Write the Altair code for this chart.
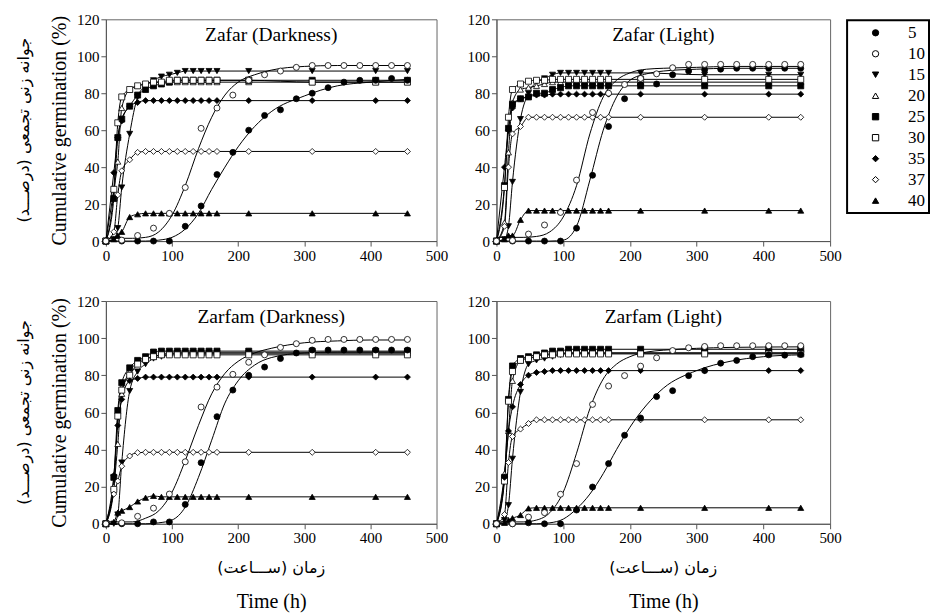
import altair as alt
import pandas as pd

SERIES = ["5", "10", "15", "20", "25", "30", "35", "37", "40"]
SHAPES = ["circle", "circle", "triangle-down", "triangle-up", "square",
          "square", "diamond", "diamond", "triangle-up"]
FILLS = ["black", "white", "black", "white", "black", "white", "black", "white", "black"]
STROKES = ["black", "black", "black", "black", "black", "black", "black", "black", "black"]
FAST = ["15", "20", "25", "30", "35", "37", "40"]
SLOW = ["5", "10"]

# observation times (h)
T_FAST = [0, 12, 18, 24, 36, 48, 60, 72, 84, 96, 108, 120, 132, 144, 156, 168, 216, 312, 408, 456]
T_SLOW = [0, 24, 48, 72, 96, 120, 144, 168, 192, 216, 240, 264, 288, 312, 336, 360, 384, 408, 432, 456]
# knots of the fitted curves of the slow series
T_CURVE = [0, 40, 60, 80, 100, 120, 140, 160, 180, 200, 225, 250, 300, 350, 400, 456]

# ---------------- Zafar (Darkness)
ZD_15 = [0, 1, 7, 29, 58, 78, 84, 87, 89, 90, 91, 92, 92, 92, 92, 92, 92, 92, 92, 92]
ZD_20 = [0, 28, 43, 72, 82, 84, 85, 86, 86, 86, 86, 86, 86, 86, 86, 86, 86, 86, 86, 86]
ZD_25 = [0, 23, 56, 66, 73, 79, 82, 84, 85, 86, 87, 87, 87, 87, 87, 87, 87, 87, 87, 87]
ZD_30 = [0, 28, 64, 78, 82, 84, 85, 86, 86, 87, 87, 87, 87, 87, 87, 87, 87, 86, 86, 86]
ZD_35 = [0, 37, 56, 65, 73, 75, 76, 76, 76, 76, 76, 76, 76, 76, 76, 76, 76, 76, 76, 76]
ZD_37 = [0, 5, 25, 38, 44, 48, 48.5, 48.5, 48.5, 48.5, 48.5, 48.5, 48.5, 48.5, 48.5, 48.5, 48.5, 48.5, 48.5, 48.5]
ZD_40 = [0, 1, 3, 5, 13, 14.5, 15, 15, 15, 15, 15, 15, 15, 15, 15, 15, 15, 15, 15, 15]
ZD_5 = [0, 0, 0, 0, 0, 8, 19, 36, 48, 60, 68, 71, 77, 80, 83, 86, 87, 87, 88, 87]
ZD_10 = [0, 0.5, 3, 7, 15, 29, 61, 72, 79, 87, 90, 92, 94, 95, 95, 95, 95, 95, 95, 95]
ZD_5_FIT = [0, 0, 0, 0.5, 2, 6.5, 15, 28, 40, 51, 62, 70, 78.5, 84, 86, 87.5]
ZD_10_FIT = [1.5, 1.5, 2, 5, 14, 30, 50, 67, 79, 86, 90, 92.5, 94.5, 95, 95, 95]

# ---------------- Zafar (Light)
ZL_15 = [0, 1, 8, 32, 66, 80, 86, 88, 90, 91, 91, 91, 91, 91, 91, 91, 91, 90, 90, 90]
ZL_20 = [0, 10, 48, 75, 82, 83, 84, 85, 86, 86, 86, 86, 86, 86, 86, 86, 86, 86, 86, 86]
ZL_25 = [0, 30, 61, 74, 77, 78, 80, 80, 82, 83, 84, 84, 84, 84, 84, 84, 84, 84, 84, 84]
ZL_30 = [0, 29, 67, 82, 85, 86.5, 87, 87, 87.5, 87.5, 87.5, 87.5, 87.5, 87.5, 87.5, 87.5, 87.5, 87.5, 87.5, 87.5]
ZL_35 = [0, 40, 60, 72, 77, 78, 79, 79, 79.5, 79.5, 79.5, 79.5, 79.5, 79.5, 79.5, 79.5, 79.5, 79.5, 79.5, 79.5]
ZL_37 = [0, 8, 40, 58, 62, 67, 67, 67, 67, 67, 67, 67, 67, 67, 67, 67, 67, 67, 67, 67]
ZL_40 = [0, 1, 3, 3, 11.5, 16.5, 16.5, 16.5, 16.5, 16.5, 16.5, 16.5, 16.5, 16.5, 16.5, 16.5, 16.5, 16.5, 16.5, 16.5]
ZL_5 = [0, 0, 0, 0, 0, 7, 35.6, 62, 77, 84.7, 85, 90, 92, 92.7, 93, 93.5, 93.5, 93.5, 93.5, 93.5]
ZL_10 = [0, 0.3, 3.8, 8.7, 15.5, 33, 69.6, 80, 84.7, 88, 90.5, 93.8, 95.6, 95.6, 95.6, 95.6, 95.6, 95.6, 95.6, 95.6]
ZL_5_FIT = [0, 0, 0, 0, 0.5, 8, 33, 60, 78, 87, 90.5, 92, 93, 93.5, 93.5, 93.5]
ZL_10_FIT = [2, 2, 2.5, 5, 13, 30, 58, 78, 87, 91, 93, 93.5, 94, 94.5, 94.5, 94.5]

# ---------------- Zarfam (Darkness)
RD_15 = [0, 0, 5, 33, 71.5, 82, 86, 89, 90, 91, 92, 92, 92, 92, 92, 92, 92, 92, 92, 92]
RD_20 = [0, 20, 43, 70, 82, 87, 89, 90, 91, 92, 92, 92, 92, 92, 92, 92, 92, 92, 92, 92]
RD_25 = [0, 25, 61, 76, 84, 88, 90, 92.5, 93, 93, 93, 93, 93, 93, 93, 93, 93, 93, 93, 93]
RD_30 = [0, 18.5, 58, 72, 80, 86, 88.5, 90, 91, 91, 91, 91, 91, 91, 91, 91, 91, 91, 91, 91]
RD_35 = [0, 26, 53, 67, 77, 78.3, 79, 79, 79, 79, 79, 79, 79, 79, 79, 79, 79, 79, 79, 79]
RD_37 = [0, 16, 23, 31, 36.5, 38.3, 38.5, 38.5, 38.5, 38.5, 38.5, 38.5, 38.5, 38.5, 38.5, 38.5, 38.5, 38.5, 38.5, 38.5]
RD_40 = [0, 1, 6, 7, 9, 12, 14, 15, 14.5, 14.5, 14.5, 14.5, 14.5, 14.5, 14.5, 14.5, 14.5, 14.5, 14.5, 14.5]
RD_5 = [0, 0, 0, 1, 1, 10.4, 32.9, 57.7, 72, 80, 84.4, 89, 92, 93.6, 93.6, 93.6, 93.6, 93.6, 93.6, 93.6]
RD_10 = [0, 0.5, 4, 8.4, 16, 33.4, 62.9, 73.6, 80.5, 87, 91, 95, 97, 98.8, 99.3, 99.3, 99.3, 99.3, 99.3, 99.3]
RD_5_FIT = [0, 0, 0, 0.5, 2, 9, 25, 45, 65, 77, 85.5, 89.5, 92, 92.5, 92.5, 92.5]
RD_10_FIT = [1, 1, 3, 7, 17, 34, 53, 70, 81, 87.5, 92, 94.5, 97.5, 98.5, 99, 99]

# ---------------- Zarfam (Light)
RL_15 = [0, 2, 10, 35, 71, 86, 88, 89, 90, 91, 92, 92, 92, 92, 92, 92, 92, 92, 92, 92]
RL_20 = [0, 27, 50, 77, 88, 90, 91, 91, 92, 92, 92, 92, 92, 92, 92, 92, 92, 92, 92, 92]
RL_25 = [0, 25, 67, 85, 89, 90, 91, 92, 93, 93, 94, 94, 94, 94, 94, 94, 94, 94, 94, 94]
RL_30 = [0, 23, 66, 82, 88, 89, 90, 91, 91, 91.5, 91.5, 91.5, 91.5, 91.5, 91.5, 91.5, 91.5, 91.5, 91.5, 91.5]
RL_35 = [0, 25, 50, 63, 75, 80, 81.5, 82, 82.5, 82.5, 82.5, 82.5, 82.5, 82.5, 82.5, 82.5, 82.5, 82.5, 82.5, 82.5]
RL_37 = [0, 5, 33, 47, 51, 54, 56, 56, 56, 56, 56, 56, 56, 56, 56, 56, 56, 56, 56, 56]
RL_40 = [0, 0.5, 2, 3, 4.7, 8.3, 8.6, 8.6, 8.6, 8.6, 8.6, 8.6, 8.6, 8.6, 8.6, 8.6, 8.6, 8.6, 8.6, 8.6]
RL_5 = [0, 0, 0.5, 0, 0, 7.4, 19.8, 32.4, 47.7, 57, 68.5, 71.7, 79.8, 82.5, 86.5, 88, 90, 91, 90.8, 91.2]
RL_10 = [0, 0, 3.6, 6, 15.9, 32.4, 64.3, 74.2, 79.8, 84.9, 89.4, 93.3, 94.8, 95.5, 95.9, 95.9, 95.9, 95.9, 95.9, 95.9]
RL_5_FIT = [0, 0, 0, 0.5, 2.5, 8, 16, 27, 40, 52, 64, 73, 82.5, 87.5, 90, 91]
RL_10_FIT = [1, 1, 2, 6, 17, 38, 62, 78, 86, 90, 92.5, 93.5, 94.5, 95, 95.2, 95.3]

PANEL_TITLES = ["Zafar (Darkness)", "Zafar (Light)", "Zarfam (Darkness)", "Zarfam (Light)"]
Y_TITLE_EN = "Cumulative germination (%)"
Y_TITLE_FA = "جوانه زنی تجمعی (درصـــد)\u200f"
X_TITLE_EN = "Time (h)"
X_TITLE_FA = "زمان (ســـاعت)\u200f"
X_TICKS = [0, 100, 200, 300, 400, 500]
Y_TICKS = [0, 20, 40, 60, 80, 100, 120]

SERIF = "Times New Roman, Liberation Serif, DejaVu Serif, serif"
FA_FONT = "DejaVu Sans"


def frames(fast, slow, fits):
    pts, lines = [], []
    for s, vals in zip(FAST, fast):
        for t, v in zip(T_FAST, vals):
            pts.append({"t": t, "v": v, "s": s})
            lines.append({"t": t, "v": v, "s": s})
    for s, vals, fit in zip(SLOW, slow, fits):
        for t, v in zip(T_SLOW, vals):
            pts.append({"t": t, "v": v, "s": s})
        for t, v in zip(T_CURVE, fit):
            lines.append({"t": t, "v": v, "s": s})
    return pd.DataFrame(pts), pd.DataFrame(lines)


LEGEND = alt.Legend(title=None, orient="none", legendX=742, legendY=1,
                    values=SERIES)


def panel(title, fast, slow, fits, w, h, left, bottom):
    pts, lines = frames(fast, slow, fits)
    xax = alt.Axis(values=X_TICKS, title=X_TITLE_EN if bottom else None,
                   titlePadding=46)
    yax = alt.Axis(values=Y_TICKS, title=Y_TITLE_EN if left else None,
                   titlePadding=7)
    x = alt.X("t:Q", scale=alt.Scale(domain=[0, 500], nice=False), axis=xax)
    y = alt.Y("v:Q", scale=alt.Scale(domain=[0, 120], nice=False), axis=yax)
    line_layer = alt.Chart(lines).mark_line(
        color="black", strokeWidth=1, interpolate="monotone"
    ).encode(x=x, y=y, detail="s:N")
    point_layer = alt.Chart(pts).mark_point(
        filled=True, size=36, strokeWidth=0.8, opacity=1
    ).encode(
        x=x, y=y,
        shape=alt.Shape("s:N", scale=alt.Scale(domain=SERIES, range=SHAPES), legend=LEGEND),
        fill=alt.Fill("s:N", scale=alt.Scale(domain=SERIES, range=FILLS), legend=LEGEND),
        stroke=alt.Stroke("s:N", scale=alt.Scale(domain=SERIES, range=STROKES), legend=LEGEND),
    )
    layers = [line_layer, point_layer]
    layers.append(alt.Chart(pd.DataFrame({"txt": [title]})).mark_text(
        font=SERIF, fontSize=19.5, baseline="middle", align="center", color="black"
    ).encode(text="txt:N", x=alt.value(w / 2), y=alt.value(16)))
    if left:
        layers.append(alt.Chart(pd.DataFrame({"txt": [Y_TITLE_FA]})).mark_text(
            font=FA_FONT, fontSize=16, baseline="middle", align="center",
            angle=270, color="black"
        ).encode(text="txt:N", x=alt.value(-82), y=alt.value(h / 2)))
    if bottom:
        layers.append(alt.Chart(pd.DataFrame({"txt": [X_TITLE_FA]})).mark_text(
            font=FA_FONT, fontSize=16, baseline="middle", align="center", color="black"
        ).encode(text="txt:N", x=alt.value(w / 2), y=alt.value(h + 44)))
    return alt.layer(*layers).properties(width=w, height=h)


tl = panel(PANEL_TITLES[0], [ZD_15, ZD_20, ZD_25, ZD_30, ZD_35, ZD_37, ZD_40],
           [ZD_5, ZD_10], [ZD_5_FIT, ZD_10_FIT], 331, 222, True, False)
tr = panel(PANEL_TITLES[1], [ZL_15, ZL_20, ZL_25, ZL_30, ZL_35, ZL_37, ZL_40],
           [ZL_5, ZL_10], [ZL_5_FIT, ZL_10_FIT], 334, 222, False, False)
bl = panel(PANEL_TITLES[2], [RD_15, RD_20, RD_25, RD_30, RD_35, RD_37, RD_40],
           [RD_5, RD_10], [RD_5_FIT, RD_10_FIT], 331, 223, True, True)
br = panel(PANEL_TITLES[3], [RL_15, RL_20, RL_25, RL_30, RL_35, RL_37, RL_40],
           [RL_5, RL_10], [RL_5_FIT, RL_10_FIT], 334, 223, False, True)

chart = alt.concat(tl, tr, bl, br, columns=2, spacing=60, bounds="flush").properties(
    padding={"left": 15, "top": 11, "right": 0, "bottom": 0}
).configure(
    background="white"
).configure_view(
    stroke="#666666", strokeWidth=1
).configure_axis(
    grid=False, labelFont=SERIF, labelFontSize=15, labelColor="black",
    titleFont=SERIF, titleFontSize=20, titleFontWeight="normal", titleColor="black",
    domainColor="#555555", tickColor="#555555", tickSize=5, labelPadding=2,
    labelFlush=False, labelOverlap=False
).configure_legend(
    labelFont=SERIF, labelFontSize=17, labelColor="black",
    symbolSize=40, symbolStrokeWidth=1,
    strokeColor="black", strokeWidth=2, padding=4, rowPadding=3,
    symbolOffset=16, labelOffset=24, fillColor="white"
)

chart.save("out.html", embed_options={"renderer": "svg", "actions": False})
